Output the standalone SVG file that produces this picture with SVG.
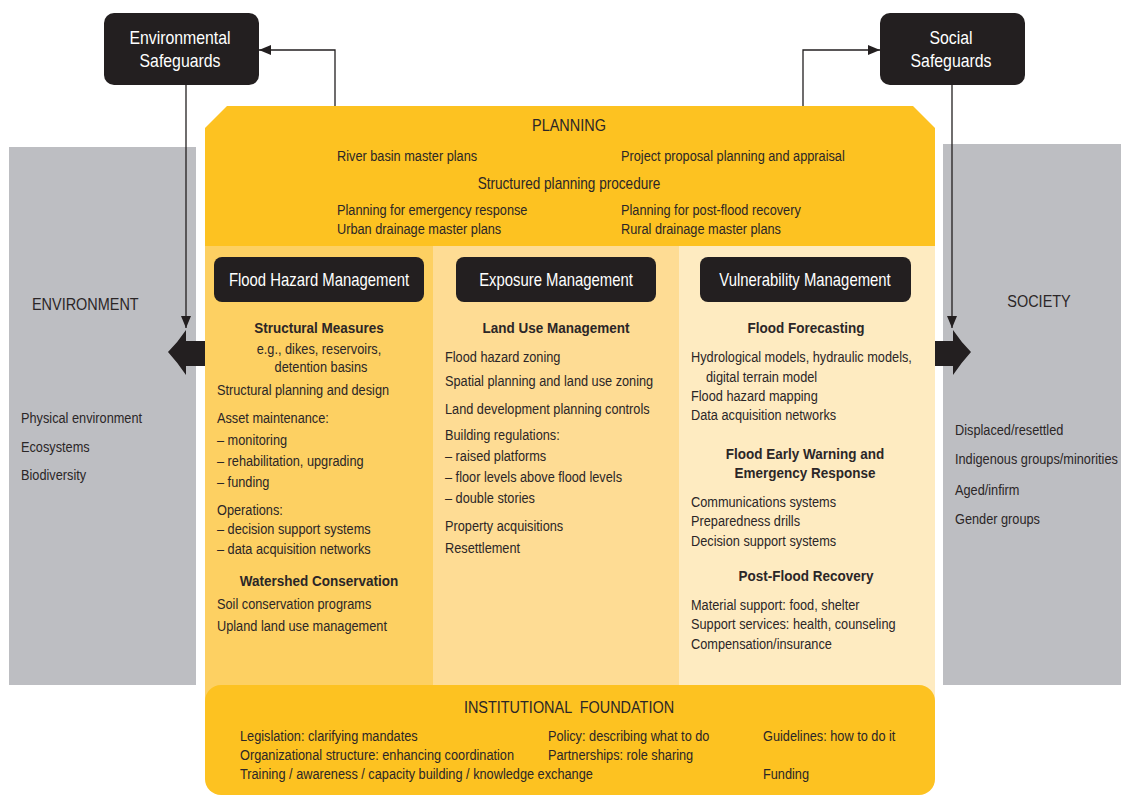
<svg xmlns="http://www.w3.org/2000/svg" width="1121" height="795" viewBox="0 0 1121 795">
  <style>
    text { font-family: "Liberation Sans", Arial, sans-serif; fill: #2b2627; font-size: 15px;
           transform-box: fill-box; transform-origin: left center; transform: scaleX(0.85); }
    .c { text-anchor: middle; transform-origin: center; }
    .hd { font-size: 17px; }
    .wt { fill: #ffffff; font-size: 17.5px; }
    .sg { fill: #ffffff; font-size: 18px; transform: scaleX(0.88); }
    .sub { font-weight: bold; transform: scaleX(0.9); }
    .dark { fill: #231f20; }
    .link { fill: none; stroke: #231f20; stroke-width: 1.3; }
  </style>
  <defs>
    <marker id="tri" viewBox="0 0 12 10" refX="12" refY="5" markerWidth="12" markerHeight="10" markerUnits="userSpaceOnUse" orient="auto">
      <path d="M0,0 L12,5 L0,10 Z" fill="#231f20"/>
    </marker>
  </defs>

  <!-- side panels -->
  <g id="environment">
    <rect x="9" y="147" width="187" height="538" fill="#bdbec2"/>
    <text x="32" y="310" class="hd">ENVIRONMENT</text>
    <text x="21" y="423">Physical environment</text>
    <text x="21" y="452">Ecosystems</text>
    <text x="21" y="480">Biodiversity</text>
  </g>
  <g id="society">
    <rect x="943" y="144" width="178" height="541" fill="#bdbec2"/>
    <text x="1039" y="307" class="hd c">SOCIETY</text>
    <text x="955" y="435">Displaced/resettled</text>
    <text x="955" y="464">Indigenous groups/minorities</text>
    <text x="955" y="495">Aged/infirm</text>
    <text x="955" y="524">Gender groups</text>
  </g>

  <!-- management columns -->
  <g id="flood-hazard">
    <rect x="205" y="240" width="228" height="460" fill="#fdd062"/>
    <rect x="214" y="257" width="210" height="45" rx="8" class="dark"/>
    <text x="319" y="286" class="wt c">Flood Hazard Management</text>
    <text x="319" y="333" class="sub c">Structural Measures</text>
    <text x="319" y="354" class="c">e.g., dikes, reservoirs,</text>
    <text x="321" y="372" class="c">detention basins</text>
    <text x="217" y="395">Structural planning and design</text>
    <text x="217" y="423">Asset maintenance:</text>
    <text x="217" y="445">– monitoring</text>
    <text x="217" y="466">– rehabilitation, upgrading</text>
    <text x="217" y="487">– funding</text>
    <text x="217" y="515">Operations:</text>
    <text x="217" y="534">– decision support systems</text>
    <text x="217" y="554">– data acquisition networks</text>
    <text x="319" y="586" class="sub c">Watershed Conservation</text>
    <text x="217" y="609">Soil conservation programs</text>
    <text x="217" y="631">Upland land use management</text>
  </g>
  <g id="exposure">
    <rect x="433" y="240" width="246" height="460" fill="#fedc94"/>
    <rect x="456" y="257" width="200" height="45" rx="8" class="dark"/>
    <text x="556" y="286" class="wt c">Exposure Management</text>
    <text x="556" y="333" class="sub c">Land Use Management</text>
    <text x="445" y="362">Flood hazard zoning</text>
    <text x="445" y="386">Spatial planning and land use zoning</text>
    <text x="445" y="414">Land development planning controls</text>
    <text x="445" y="440">Building regulations:</text>
    <text x="445" y="461">– raised platforms</text>
    <text x="445" y="482">– floor levels above flood levels</text>
    <text x="445" y="503">– double stories</text>
    <text x="445" y="531">Property acquisitions</text>
    <text x="445" y="553">Resettlement</text>
  </g>
  <g id="vulnerability">
    <rect x="679" y="240" width="256" height="460" fill="#feebc1"/>
    <rect x="700" y="257" width="211" height="45" rx="8" class="dark"/>
    <text x="805" y="286" class="wt c">Vulnerability Management</text>
    <text x="806" y="333" class="sub c">Flood Forecasting</text>
    <text x="691" y="362">Hydrological models, hydraulic models,</text>
    <text x="706" y="382">digital terrain model</text>
    <text x="691" y="401">Flood hazard mapping</text>
    <text x="691" y="420">Data acquisition networks</text>
    <text x="805" y="459" class="sub c">Flood Early Warning and</text>
    <text x="805" y="478" class="sub c">Emergency Response</text>
    <text x="691" y="507">Communications systems</text>
    <text x="691" y="526">Preparedness drills</text>
    <text x="691" y="546">Decision support systems</text>
    <text x="806" y="581" class="sub c">Post-Flood Recovery</text>
    <text x="691" y="610">Material support: food, shelter</text>
    <text x="691" y="629">Support services: health, counseling</text>
    <text x="691" y="649">Compensation/insurance</text>
  </g>

  <!-- planning band -->
  <g id="planning">
    <path d="M205,128 L227,106 L913,106 L935,128 L935,246 L205,246 Z" fill="#fdc221"/>
    <text x="569" y="131" class="hd c">PLANNING</text>
    <text x="337" y="161">River basin master plans</text>
    <text x="621" y="161">Project proposal planning and appraisal</text>
    <text x="569" y="189" class="c" style="font-size:16px">Structured planning procedure</text>
    <text x="337" y="215">Planning for emergency response</text>
    <text x="621" y="215">Planning for post-flood recovery</text>
    <text x="337" y="234">Urban drainage master plans</text>
    <text x="621" y="234">Rural drainage master plans</text>
  </g>

  <!-- institutional foundation -->
  <g id="institutional">
    <rect x="205" y="685" width="730" height="110" rx="16" fill="#fdc221"/>
    <text x="569" y="713" class="hd c" xml:space="preserve">INSTITUTIONAL  FOUNDATION</text>
    <text x="240" y="741">Legislation: clarifying mandates</text>
    <text x="240" y="760">Organizational structure: enhancing coordination</text>
    <text x="240" y="779">Training / awareness / capacity building / knowledge exchange</text>
    <text x="548" y="741">Policy: describing what to do</text>
    <text x="548" y="760">Partnerships: role sharing</text>
    <text x="763" y="741">Guidelines: how to do it</text>
    <text x="763" y="779">Funding</text>
  </g>

  <!-- safeguard boxes -->
  <g id="env-safeguards">
    <rect x="104" y="13" width="155" height="72" rx="10" class="dark"/>
    <text x="180" y="44" class="sg c">Environmental</text>
    <text x="180" y="67" class="sg c">Safeguards</text>
  </g>
  <g id="soc-safeguards">
    <rect x="880" y="13" width="145" height="72" rx="10" class="dark"/>
    <text x="951" y="44" class="sg c">Social</text>
    <text x="951" y="67" class="sg c">Safeguards</text>
  </g>

  <!-- connectors -->
  <g id="connectors">
    <polyline class="link" points="335,106 335,50 259,50" marker-end="url(#tri)"/>
    <polyline class="link" points="803,106 803,50 880,50" marker-end="url(#tri)"/>
    <line class="link" x1="186" y1="85" x2="186" y2="328" marker-end="url(#tri)"/>
    <line class="link" x1="952" y1="85" x2="952" y2="328" marker-end="url(#tri)"/>
    <!-- block arrows out to the side panels -->
    <path d="M205,341 L186,341 L186,330 Q178,342 168,352 Q178,363 186,375 L186,366 L205,366 Z" fill="#231f20"/>
    <path d="M935,341 L953,341 L953,330 Q961,342 971,352 Q961,363 953,375 L953,366 L935,366 Z" fill="#231f20"/>
  </g>
</svg>
